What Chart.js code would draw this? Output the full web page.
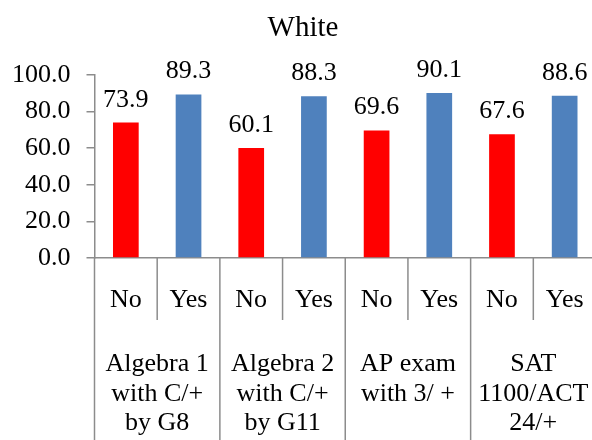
<!DOCTYPE html>
<html>
<head>
<meta charset="utf-8">
<title>White</title>
<script src="https://cdn.jsdelivr.net/npm/chart.js@4/dist/chart.umd.min.js"></script>
<style>
  html, body { margin: 0; padding: 0; background: #fff; overflow: hidden; }
  #wrap { width: 606px; height: 440px; }
</style>
</head>
<body>
<div id="wrap"><canvas id="chart"></canvas></div>
<script>
// Chart content
const chartTitle = 'White';
const groupLabels = [
  ['Algebra 1', 'with C/+', 'by G8'],
  ['Algebra 2', 'with C/+', 'by G11'],
  ['AP exam', 'with 3/ +'],
  ['SAT', '1100/ACT', '24/+']
];
const answerLabels = ['No', 'Yes'];
const noValues = [73.9, 60.1, 69.6, 67.6];
const yesValues = [89.3, 88.3, 90.1, 88.6];
const yMin = 0;
const yMax = 100;
const yStep = 20;

const noColor = '#FF0000';
const yesColor = '#4F81BD';
const axisColor = '#8C8C8C';
const FONT = "'Liberation Serif', 'Times New Roman', serif";

// One bar per (group, answer) pair, No before Yes inside each group
const barLabels = [];
const barValues = [];
const barColors = [];
groupLabels.forEach((g, i) => {
  barLabels.push(answerLabels[0], answerLabels[1]);
  barValues.push(noValues[i], yesValues[i]);
  barColors.push(noColor, yesColor);
});

// Value labels above each bar
const valueLabels = {
  id: 'valueLabels',
  afterDatasetsDraw(chart) {
    const ctx = chart.ctx;
    const meta = chart.getDatasetMeta(0);
    ctx.save();
    ctx.font = '26px ' + FONT;
    ctx.fillStyle = '#000';
    ctx.textAlign = 'center';
    ctx.textBaseline = 'alphabetic';
    meta.data.forEach((bar, i) => {
      ctx.fillText(barValues[i].toFixed(1), bar.x, bar.y - 16);
    });
    ctx.restore();
  }
};

// Two-level category axis: answer row, group row and the divider lines
const twoLevelAxis = {
  id: 'twoLevelAxis',
  afterDraw(chart) {
    const ctx = chart.ctx;
    const xs = chart.scales.x;
    const bottom = chart.chartArea.bottom;
    const n = barLabels.length;
    const half = (xs.getPixelForValue(1) - xs.getPixelForValue(0)) / 2;
    ctx.save();
    ctx.strokeStyle = axisColor;
    ctx.lineWidth = 1.5;
    for (let i = 0; i <= n; i++) {
      const x = i < n ? xs.getPixelForValue(i) - half : xs.getPixelForValue(n - 1) + half;
      const yEnd = i % 2 === 0 ? chart.height : bottom + 62;
      ctx.beginPath();
      ctx.moveTo(x, bottom);
      ctx.lineTo(x, yEnd);
      ctx.stroke();
    }
    ctx.font = '26px ' + FONT;
    ctx.fillStyle = '#000';
    ctx.textAlign = 'center';
    ctx.textBaseline = 'alphabetic';
    barLabels.forEach((lab, i) => {
      ctx.fillText(lab, xs.getPixelForValue(i), bottom + 49);
    });
    groupLabels.forEach((lines, g) => {
      const cx = (xs.getPixelForValue(2 * g) + xs.getPixelForValue(2 * g + 1)) / 2;
      lines.forEach((line, k) => {
        ctx.fillText(line, cx, bottom + 113 + 29.5 * k);
      });
    });
    ctx.restore();
  }
};

new Chart(document.getElementById('chart'), {
  type: 'bar',
  data: {
    labels: barLabels,
    datasets: [{
      data: barValues,
      backgroundColor: barColors,
      borderWidth: 0,
      categoryPercentage: 1,
      barPercentage: 0.41
    }]
  },
  options: {
    responsive: true,
    maintainAspectRatio: false,
    animation: false,
    layout: { padding: 0 },
    plugins: {
      legend: { display: false },
      tooltip: { enabled: false },
      title: {
        display: true,
        text: chartTitle,
        color: '#000',
        font: { family: FONT, size: 29, weight: 'normal' },
        padding: { top: 11, bottom: 29 }
      }
    },
    scales: {
      x: {
        offset: true,
        ticks: { display: false },
        grid: { display: false },
        border: { display: true, color: axisColor, width: 1.5 },
        afterFit(scale) { scale.height = 182; }
      },
      y: {
        min: yMin,
        max: yMax,
        ticks: {
          stepSize: yStep,
          color: '#000',
          font: { family: FONT, size: 26 },
          padding: 16,
          callback: v => Number(v).toFixed(1)
        },
        grid: {
          display: true,
          drawOnChartArea: false,
          drawTicks: true,
          tickLength: 8,
          color: axisColor,
          lineWidth: 1.5
        },
        border: { display: true, color: axisColor, width: 1.5 },
        afterFit(scale) { scale.width = 94.5; }
      },
      // empty right-hand margin so the plot area stops short of the canvas edge
      yRight: {
        position: 'right',
        ticks: { display: false },
        grid: { display: false },
        border: { display: false },
        afterFit(scale) { scale.width = 10; }
      }
    }
  },
  plugins: [valueLabels, twoLevelAxis]
});
</script>
</body>
</html>
